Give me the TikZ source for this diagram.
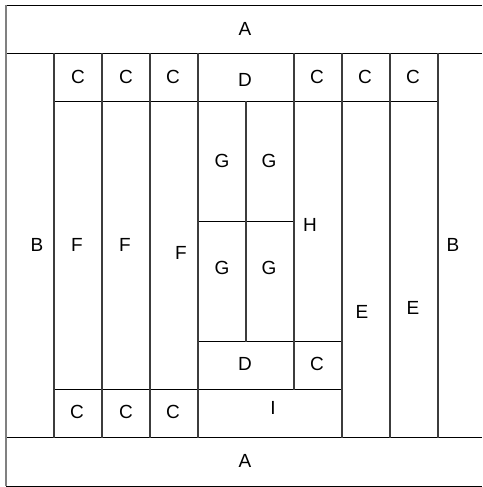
\documentclass[tikz,border=0pt]{standalone}
\usepackage{fontspec}
\setmainfont{Liberation Sans}
\definecolor{rule}{RGB}{60,60,60}
\definecolor{edge}{RGB}{128,128,128}

\begin{document}
\begin{tikzpicture}[x=1pt, y=-1pt,
        hline/.style={draw, black, line width=0.9pt},
        vline/.style={draw, rule, line width=1.9pt},
        lbl/.style={font=\fontsize{19}{22}\selectfont, inner sep=0pt},
      ]
      \useasboundingbox (0,0) rectangle (482,487);
      % horizontal rules
      \draw[hline] (6,5) -- (482,5);
      \draw[hline] (6,53) -- (482,53);
      \draw[hline] (54,101) -- (438,101);
      \draw[hline] (198,221.5) -- (294,221.5);
      \draw[hline] (198,341.5) -- (342,341.5);
      \draw[hline] (54,389.5) -- (342,389.5);
      \draw[hline] (6,437.5) -- (482,437.5);
      \draw[hline] (6,486) -- (482,486);
      % vertical rules
      \draw[vline, edge] (6,5) -- (6,486);
      \foreach \x in {54,102,150,198,342,390,438}
        \draw[vline] (\x,53) -- (\x,437.5);
      \draw[vline] (246,101) -- (246,341.5);
      \draw[vline] (294,53) -- (294,389.5);
      % labels
      \node[lbl] (atop) at (245,29) {A};
      \node[lbl] (abot) at (245,461) {A};
      \node[lbl] (bleft) at (37,245) {B};
      \node[lbl] (bright) at (453,245) {B};
      \node[lbl] (ctop1) at (78,77) {C};
      \node[lbl] (ctop2) at (126,77) {C};
      \node[lbl] (ctop3) at (173,77) {C};
      \node[lbl] (dtop) at (245,80) {D};
      \node[lbl] (ctop4) at (317,77) {C};
      \node[lbl] (ctop5) at (365,77) {C};
      \node[lbl] (ctop6) at (413,77) {C};
      \node[lbl] (f1) at (77,245) {F};
      \node[lbl] (f2) at (125,245) {F};
      \node[lbl] (f3) at (181,253) {F};
      \node[lbl] (g1) at (222,161) {G};
      \node[lbl] (g2) at (269,161) {G};
      \node[lbl] (g3) at (222,268) {G};
      \node[lbl] (g4) at (269,268) {G};
      \node[lbl] (h) at (310,225) {H};
      \node[lbl] (e1) at (362,312) {E};
      \node[lbl] (e2) at (413,308) {E};
      \node[lbl] (dbot) at (245,364) {D};
      \node[lbl] (cmid) at (317,364) {C};
      \node[lbl] (cbot1) at (77,412) {C};
      \node[lbl] (cbot2) at (126,412) {C};
      \node[lbl] (cbot3) at (173,412) {C};
      \node[lbl] (i) at (273,408) {I};
    \end{tikzpicture}
\end{document}
